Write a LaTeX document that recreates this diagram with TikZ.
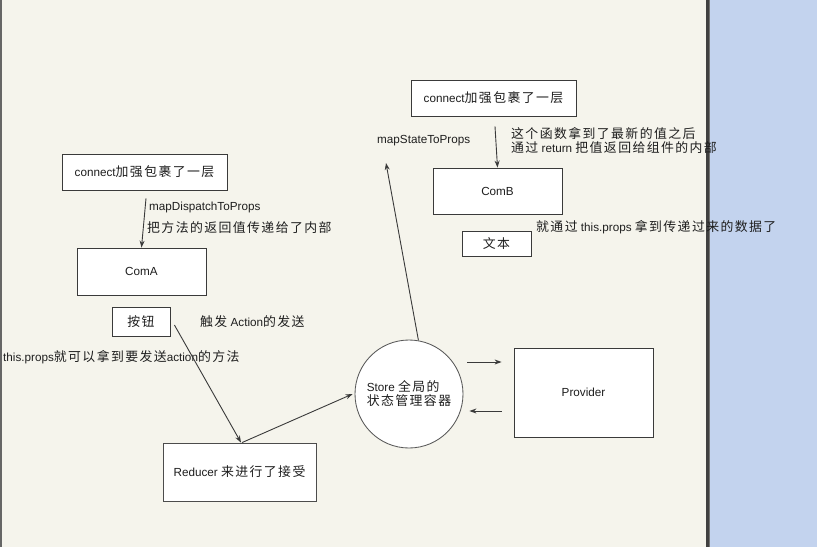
\documentclass[tikz,border=0pt]{standalone}
\usepackage{fontspec}
\setmainfont{Liberation Sans}
\newfontfamily\cjkfont[Scale=1.1,LetterSpace=11]{Noto Sans CJK SC}
\newcommand\zhs[1]{{\cjkfont #1}}
\usetikzlibrary{arrows.meta,calc}
\definecolor{bgpaper}{HTML}{F5F4EC}
\definecolor{sidebar}{HTML}{C3D3EE}
\definecolor{ink}{HTML}{1E1E1E}
\definecolor{edge}{HTML}{3A3A3A}
\tikzset{
  every node/.style={font=\fontsize{11.7}{14}\selectfont, text=ink},
  box/.style={draw=edge, fill=white, line width=0.85pt, inner sep=0pt},
  lbl/.style={inner sep=0pt, anchor=west},
  arr/.style={-{Stealth[length=7pt,width=5pt]}, line width=0.9pt, draw=edge},
}
\begin{document}
\begin{tikzpicture}[x=1pt,y=-1pt]
\useasboundingbox (0,0) rectangle (817,547);
% backdrop
\fill[bgpaper] (0,0) rectangle (707,547);
\fill[sidebar] (709,0) rectangle (817,547);
\fill[black!75] (706,0) rectangle (708.5,547);
\fill[black!55] (708.5,0) rectangle (710,547);
\fill[black!60] (0,0) rectangle (1.5,547);

% left group
\node[box, minimum width=165pt, minimum height=36pt] (connA) at (144.5,172) {connect\zhs{加强包裹了一层}};
\node[box, minimum width=129pt, minimum height=47pt] (ComA) at (141.5,271.5) {ComA};
\node[box, minimum width=58pt, minimum height=29pt] (btn) at (141,321.5) {\zhs{按钮}};
\node[lbl] (mdp) at (149,207) {mapDispatchToProps};
\node[lbl] (mdpnote) at (147,228) {\zhs{把方法的返回值传递给了内部}};
\node[lbl] (trig) at (200,322) {\zhs{触发} Action\zhs{的发送}};
\node[lbl] (thisprops) at (3,357) {this.props\zhs{就可以拿到要发送}action\zhs{的方法}};

% right group
\node[box, minimum width=165pt, minimum height=36pt] (connB) at (493.5,98) {connect\zhs{加强包裹了一层}};
\node[box, minimum width=129pt, minimum height=46pt] (ComB) at (497.5,191) {ComB};
\node[box, minimum width=69pt, minimum height=25pt] (wenben) at (496.5,243.5) {\zhs{文本}};
\node[lbl] (msp) at (377,141) {mapStateToProps};
\node[lbl] (fn1) at (511,133) {\zhs{这个函数拿到了最新的值之后}};
\node[lbl] (fn2) at (511,148) {\zhs{通过} return \zhs{把值返回给组件的内部}};
\node[lbl] (bythis) at (536,227) {\zhs{就通过} this.props \zhs{拿到传递过来的数据了}};

% bottom group
\node[box, draw=black!70, minimum width=153pt, minimum height=58pt] (Reducer) at (239.5,472) {Reducer \zhs{来进行了接受}};
\node[box, draw=black!65, circle, minimum size=108pt, align=left] (store) at (409,394) {Store \zhs{全局的}\\\zhs{状态管理容器}};
\node[box, minimum width=139pt, minimum height=89pt] (Provider) at (583.5,392.5) {Provider};

% connectors
\coordinate (mspend) at (386,163);
\draw[arr] ($(connA.south)+(1.5,8)$) -- (ComA.north);
\draw[arr] ($(connB.south)+(1.5,10)$) -- (ComB.north);
\draw[arr] ($(btn.east)+(4,3.5)$) -- ($(Reducer.north)+(1.5,0)$);
\draw[arr] ($(Reducer.north)+(2.5,0)$) -- ($(store.west)+(-2,0)$);
\draw[arr] (store.80) -- (mspend);
\draw[arr] ($(store.east)+(4,-32)$) -- ($(Provider.west)+(-12,-30.5)$);
\draw[arr] ($(Provider.west)+(-12,18.5)$) -- ($(store.east)+(6,17)$);
\end{tikzpicture}
\end{document}
